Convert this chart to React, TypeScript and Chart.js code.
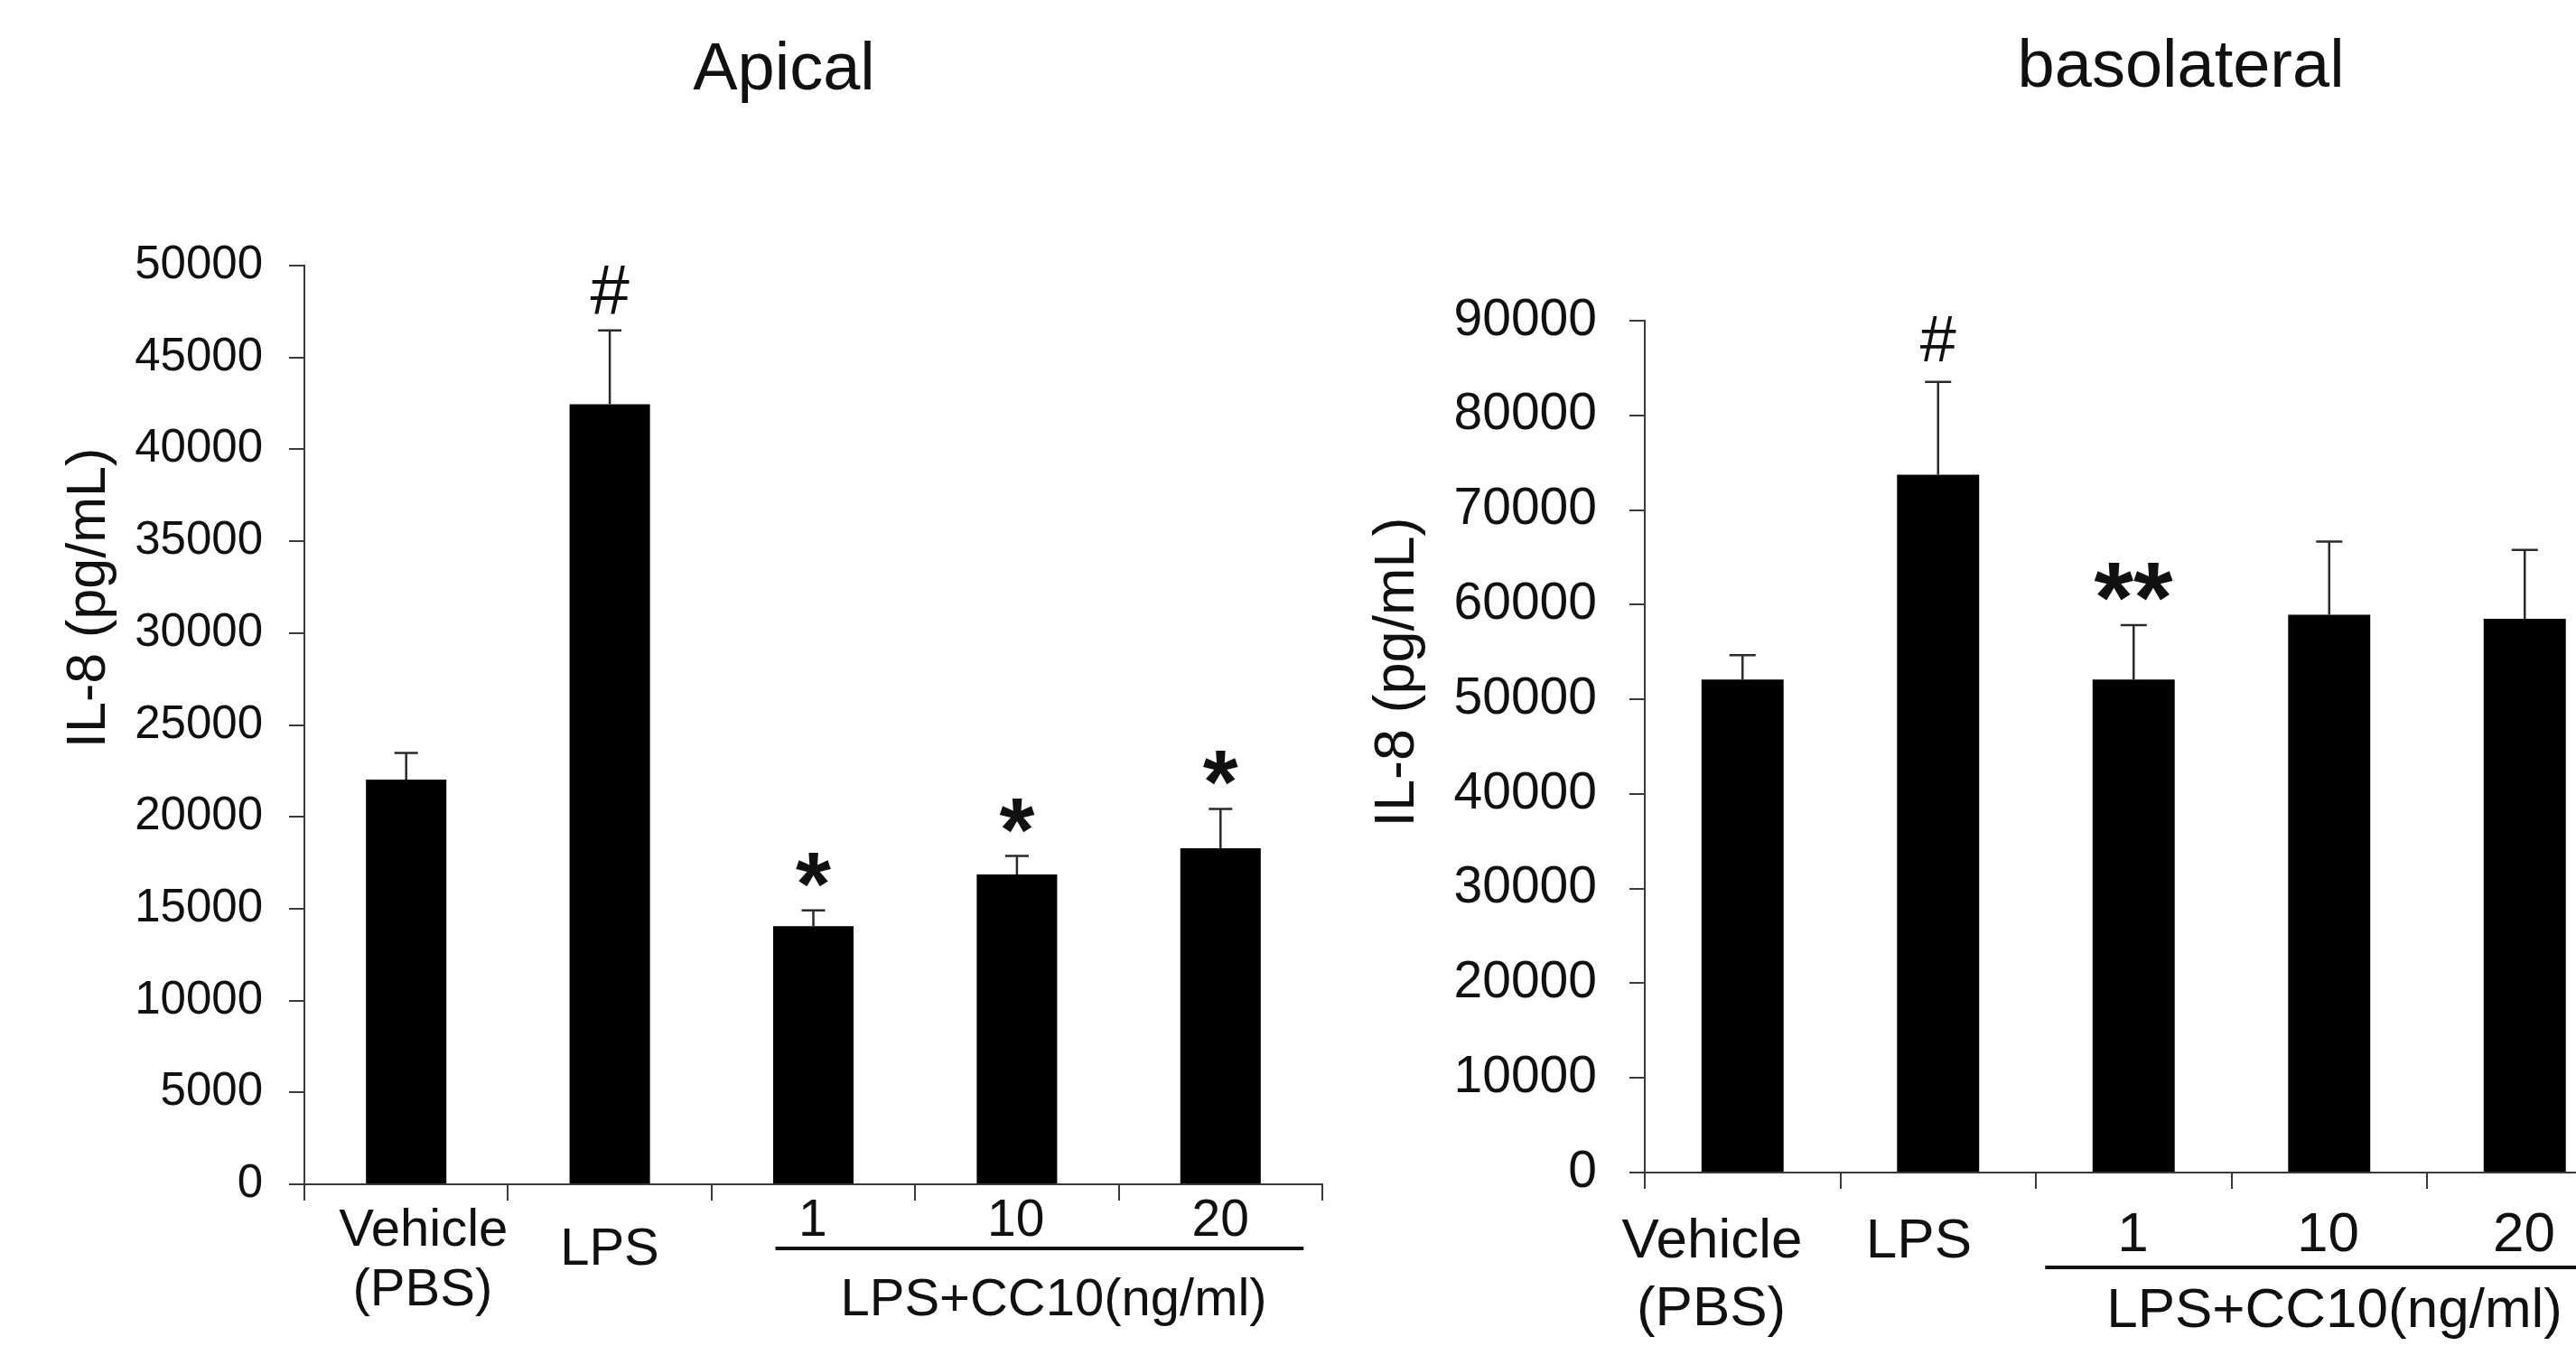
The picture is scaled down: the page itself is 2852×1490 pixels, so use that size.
import React, { useEffect, useRef } from "react";
import { Chart, registerables } from "chart.js";
Chart.register(...registerables);

// ---------- data ----------
const categories = ["Vehicle (PBS)", "LPS", "1", "10", "20"];
const xLabelNumbers = ["1", "10", "20"];
const groupLabel = "LPS+CC10(ng/ml)";
const yTitle = "IL-8 (pg/mL)";

const apicalMeans = [22030, 42450, 14050, 16860, 18290];
const apicalErr = [1440, 4020, 860, 1010, 2140];
const apicalMarks = ["", "#", "*", "*", "*"];
const apicalTicks = [0, 5000, 10000, 15000, 20000, 25000, 30000, 35000, 40000, 45000, 50000];

const basoMeans = [52090, 73730, 52090, 58930, 58500];
const basoErr = [2580, 9800, 5740, 7740, 7290];
const basoMarks = ["", "#", "**", "", ""];
const basoTicks = [0, 10000, 20000, 30000, 40000, 50000, 60000, 70000, 80000, 90000];

// ---------- style ----------
const FONT = "'Liberation Sans', Arial, sans-serif";
const TEXT = "#101010";
const AXIS = "#3a3a3a";
const ERR = "#2a2a2a";

const apicalCfg = {
  title: "Apical", means: apicalMeans, errs: apicalErr, marks: apicalMarks, ticks: apicalTicks,
  left: 0, width: 1500, padTop: 294, padRight: 36, yAxisWidth: 337, xAxisHeight: 179,
  barPct: 0.395, yMax: 50000, tickFont: 51, tickPad: 29,
  labelFont: 58, numFont: 57, groupFont: 58, yTitleFont: 61, yTitleX: 100, yTitleY: 661,
  titleX: 868, titleBase: 99, titleFont: 74,
  vehDx: 18, vehDy: 47, pbsDy: 119, lpsDx: 1, lpsDy: 69, numDy: 37,
  lineDy: 71, lineL: 42, lineR: 92, groupDx: 41, groupDy: 130,
  hashFont: 78, starFont: 100, markGap: 45, capHalf: 13,
};

const basoCfg = {
  title: "basolateral", means: basoMeans, errs: basoErr, marks: basoMarks, ticks: basoTicks,
  left: 1500, width: 1420, padTop: 355, padRight: 16.5, yAxisWidth: 321, xAxisHeight: 192,
  barPct: 0.42, yMax: 90000, tickFont: 57, tickPad: 36,
  labelFont: 62, numFont: 62, groupFont: 62, yTitleFont: 63, yTitleX: 48, yTitleY: 743,
  titleX: 914.6, titleBase: 96, titleFont: 74,
  vehDx: -35, vehDy: 72, pbsDy: 153, lpsDx: -20, lpsDy: 73, numDy: 66,
  lineDy: 105, lineL: 98, lineR: 98, groupDx: 6.5, groupDy: 155,
  hashFont: 72, starFont: 112, markGap: 48, capHalf: 14.5,
};

function inkText(ctx: CanvasRenderingContext2D, text: string, x: number, y: number, font: string) {
  ctx.font = font;
  ctx.textAlign = "left";
  ctx.textBaseline = "alphabetic";
  const m = ctx.measureText(text);
  const w = m.actualBoundingBoxLeft + m.actualBoundingBoxRight;
  const h = m.actualBoundingBoxAscent + m.actualBoundingBoxDescent;
  ctx.fillText(text, x - w / 2 + m.actualBoundingBoxLeft, y - h / 2 + m.actualBoundingBoxAscent);
}

function overlayPlugin(cfg: any) {
  return {
    id: "overlay",
    afterDraw(chart: any) {
      const ctx: CanvasRenderingContext2D = chart.ctx;
      const xs = chart.scales.x;
      const ys = chart.scales.y;
      const meta = chart.getDatasetMeta(0);
      const base = ys.getPixelForValue(0);
      const cx = (i: number) => xs.getPixelForTick(i);
      ctx.save();
      ctx.fillStyle = TEXT;
      ctx.strokeStyle = ERR;
      ctx.lineCap = "butt";

      // error bars + significance marks
      cfg.means.forEach((m: number, i: number) => {
        const x = meta.data[i].x;
        const y0 = ys.getPixelForValue(m);
        const y1 = ys.getPixelForValue(m + cfg.errs[i]);
        ctx.lineWidth = 2.5;
        ctx.beginPath();
        ctx.moveTo(x, y0);
        ctx.lineTo(x, y1);
        ctx.moveTo(x - cfg.capHalf, y1);
        ctx.lineTo(x + cfg.capHalf, y1);
        ctx.stroke();
        const mark = cfg.marks[i];
        if (mark) {
          const f = mark === "#" ? `${cfg.hashFont}px ${FONT}` : `bold ${cfg.starFont}px ${FONT}`;
          inkText(ctx, mark, x, y1 - cfg.markGap, f);
        }
      });

      // x labels
      const lf = `${cfg.labelFont}px ${FONT}`;
      inkText(ctx, "Vehicle", cx(0) + cfg.vehDx, base + cfg.vehDy, lf);
      inkText(ctx, "(PBS)", cx(0) + cfg.vehDx, base + cfg.pbsDy, lf);
      inkText(ctx, categories[1], cx(1) + cfg.lpsDx, base + cfg.lpsDy, lf);
      xLabelNumbers.forEach((t, k) => {
        inkText(ctx, t, cx(k + 2), base + cfg.numDy, `${cfg.numFont}px ${FONT}`);
      });
      ctx.lineWidth = 4;
      ctx.strokeStyle = "#111";
      ctx.beginPath();
      ctx.moveTo(cx(2) - cfg.lineL, base + cfg.lineDy);
      ctx.lineTo(cx(4) + cfg.lineR, base + cfg.lineDy);
      ctx.stroke();
      inkText(ctx, groupLabel, cx(3) + cfg.groupDx, base + cfg.groupDy, `${cfg.groupFont}px ${FONT}`);

      // y title
      ctx.save();
      ctx.translate(cfg.yTitleX, cfg.yTitleY);
      ctx.rotate(-Math.PI / 2);
      inkText(ctx, yTitle, 0, 0, `${cfg.yTitleFont}px ${FONT}`);
      ctx.restore();

      // panel title
      ctx.font = `${cfg.titleFont}px ${FONT}`;
      ctx.textAlign = "center";
      ctx.textBaseline = "alphabetic";
      ctx.fillText(cfg.title, cfg.titleX, cfg.titleBase);
      ctx.restore();
    },
  };
}

function Panel({ cfg }: { cfg: any }) {
  const ref = useRef<HTMLCanvasElement>(null);
  useEffect(() => {
    const chart = new Chart(ref.current as HTMLCanvasElement, {
      type: "bar",
      data: {
        labels: categories,
        datasets: [
          {
            data: cfg.means,
            backgroundColor: "#000",
            borderWidth: 0,
            barPercentage: cfg.barPct,
            categoryPercentage: 1,
          },
        ],
      },
      options: {
        responsive: false,
        animation: false,
        devicePixelRatio: 1,
        events: [],
        layout: { padding: { top: cfg.padTop, right: cfg.padRight, left: 0, bottom: 0 } },
        plugins: { legend: { display: false }, tooltip: { enabled: false }, title: { display: false } },
        scales: {
          x: {
            type: "category",
            offset: true,
            grid: {
              display: true,
              offset: true,
              drawOnChartArea: false,
              drawTicks: true,
              tickLength: 18,
              color: AXIS,
              lineWidth: 2,
            },
            border: { display: true, color: AXIS, width: 2 },
            ticks: { display: false },
            afterFit: (s: any) => {
              s.height = cfg.xAxisHeight;
            },
          },
          y: {
            min: 0,
            max: cfg.yMax,
            afterBuildTicks: (s: any) => {
              s.ticks = cfg.ticks.map((v: number) => ({ value: v }));
            },
            ticks: {
              font: { family: FONT, size: cfg.tickFont },
              color: TEXT,
              padding: cfg.tickPad,
              callback: (v: any) => String(v),
            },
            grid: {
              display: true,
              drawOnChartArea: false,
              drawTicks: true,
              tickLength: 17,
              color: AXIS,
              lineWidth: 2,
            },
            border: { display: true, color: AXIS, width: 2 },
            afterFit: (s: any) => {
              s.width = cfg.yAxisWidth;
            },
          },
        },
      } as any,
      plugins: [overlayPlugin(cfg)],
    });
    return () => chart.destroy();
  }, []);
  return (
    <canvas
      ref={ref}
      width={cfg.width}
      height={1490}
      style={{ position: "absolute", left: cfg.left, top: 0, width: cfg.width, height: 1490, display: "block" }}
    />
  );
}

export default function App() {
  return (
    <div
      style={{
        position: "absolute",
        left: 0,
        top: 0,
        width: 2852,
        height: 1490,
        overflow: "hidden",
        background: "#fff",
      }}
    >
      <Panel cfg={apicalCfg} />
      <Panel cfg={basoCfg} />
    </div>
  );
}
